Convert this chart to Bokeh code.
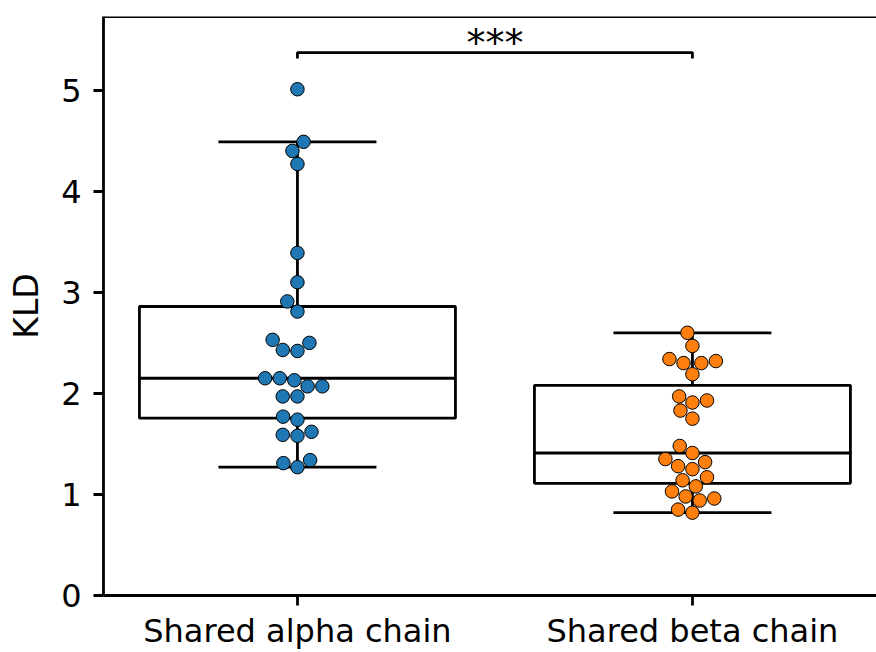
import numpy as np
from bokeh.plotting import figure
from bokeh.models import Range1d, FixedTicker, Span
from bokeh.embed import file_html
from bokeh.resources import INLINE
from bokeh.core.properties import value

# ---- data ----
categories = ["Shared alpha chain", "Shared beta chain"]
alpha_kld = [5.01, 4.49, 4.40, 4.27, 3.39, 3.10, 2.91, 2.81, 2.53, 2.50, 2.43, 2.42,
             2.15, 2.07, 2.13, 1.97, 1.97, 2.07, 2.15, 1.77, 1.74, 1.59, 1.58, 1.62,
             1.31, 1.27, 1.34]
beta_kld = [2.60, 2.47, 2.34, 2.30, 2.30, 2.32, 2.19, 1.97, 1.91, 1.93, 1.83, 1.75,
            1.48, 1.41, 1.35, 1.32, 1.28, 1.25, 1.17, 1.14, 1.08, 1.03, 0.98, 0.94,
            0.96, 0.85, 0.82]
y_ticks = [0, 1, 2, 3, 4, 5]
y_label = "KLD"
sig_label = "***"
colors = ["#1f77b4", "#ff7f0e"]

# ---- layout ----
W, H = 876, 652
B_LEFT, B_RIGHT, B_TOP, B_BOTTOM = 103, 0, 16, 56
X0, X1 = -0.491, 1.466
Y0, Y1 = 0.0, 5.73
FONT = "DejaVu Sans"
LW = 2.8

p = figure(width=W, height=H, output_backend="svg", toolbar_location=None,
           x_range=Range1d(X0, X1), y_range=Range1d(Y0, Y1),
           min_border_left=B_LEFT, min_border_right=B_RIGHT,
           min_border_top=B_TOP, min_border_bottom=B_BOTTOM)
p.outline_line_color = None
p.xgrid.visible = False
p.ygrid.visible = False
p.background_fill_color = "white"
p.border_fill_color = "white"

frame_w = W - B_LEFT - B_RIGHT
frame_h = H - B_TOP - B_BOTTOM
px_x = frame_w / (X1 - X0)
px_y = frame_h / (Y1 - Y0)


def swarm(vals, d=14.0):
    """seaborn-style beeswarm in pixel space; returns x offsets in data units."""
    vals = np.asarray(vals, dtype=float)
    order = np.argsort(vals, kind="stable")
    swarm_pts = []
    offs = np.zeros(len(vals))
    for n, i in enumerate(order):
        y = vals[i] * px_y
        if n == 0:
            swarm_pts.append((0.0, y))
            offs[i] = 0.0
            continue
        neighbors = []
        for xj, yj in reversed(swarm_pts):
            if (y - yj) < d:
                neighbors.append((xj, yj))
            else:
                break
        cands = [0.0]
        left_first = True
        for xj, yj in neighbors:
            dy = y - yj
            dx = np.sqrt(max(d * d - dy * dy, 0.0)) * 1.05
            pair = [xj - dx, xj + dx] if left_first else [xj + dx, xj - dx]
            cands.extend(pair)
            left_first = not left_first
        idx = np.argsort(np.abs(np.array(cands)), kind="stable")
        chosen = cands[idx[-1]]
        for k in idx:
            c = cands[k]
            if all((c - xj) ** 2 + (y - yj) ** 2 >= d * d for xj, yj in neighbors):
                chosen = c
                break
        swarm_pts.append((chosen, y))
        offs[i] = chosen
    return offs / px_x


def box_stats(vals):
    v = np.asarray(vals, dtype=float)
    q1, med, q3 = np.percentile(v, [25, 50, 75])
    iqr = q3 - q1
    lo = v[v >= q1 - 1.5 * iqr].min()
    hi = v[v <= q3 + 1.5 * iqr].max()
    return q1, med, q3, lo, hi


series = [alpha_kld, beta_kld]
for k, vals in enumerate(series):
    q1, med, q3, lo, hi = box_stats(vals)
    p.segment(x0=[k, k], y0=[q3, q1], x1=[k, k], y1=[hi, lo], line_color="black", line_width=LW)
    p.segment(x0=[k - 0.2, k - 0.2], y0=[hi, lo], x1=[k + 0.2, k + 0.2], y1=[hi, lo],
              line_color="black", line_width=LW)
    p.quad(left=[k - 0.4], right=[k + 0.4], bottom=[q1], top=[q3],
           fill_color="white", line_color="black", line_width=LW)
    p.segment(x0=[k - 0.4], y0=[med], x1=[k + 0.4], y1=[med], line_color="black", line_width=LW)

for k, vals in enumerate(series):
    xs = k + swarm(vals)
    p.scatter(x=xs, y=vals, size=13.5, fill_color=colors[k], line_color="black", line_width=1.0)

# significance bracket
y_br_lo, y_br_hi = 5.315, 5.373
p.line(x=[0, 0, 1, 1], y=[y_br_lo, y_br_hi, y_br_hi, y_br_lo], line_color="black", line_width=LW)
p.text(x=[0.5], y=[5.47], text=[sig_label], text_align="center", text_baseline="alphabetic",
       text_font=value(FONT), text_font_size="38px", text_color="black")

# top spine
p.add_layout(Span(location=Y1, dimension="width", line_color="black", line_width=LW))

# axes
for ax in (p.xaxis[0], p.yaxis[0]):
    ax.axis_line_width = LW
    ax.axis_line_color = "black"
    ax.major_tick_line_width = LW
    ax.major_tick_line_color = "black"
    ax.major_tick_out = 10
    ax.major_tick_in = 0
    ax.minor_tick_line_color = None
    ax.major_label_text_font = FONT
    ax.major_label_text_font_size = "32px"
    ax.major_label_text_color = "black"

p.xaxis[0].ticker = FixedTicker(ticks=[0, 1])
p.xaxis[0].major_label_overrides = {0: categories[0], 1: categories[1]}
p.xaxis[0].major_label_standoff = 6

p.yaxis[0].ticker = FixedTicker(ticks=y_ticks)
p.yaxis[0].major_label_standoff = 12
p.yaxis[0].axis_label = y_label
p.yaxis[0].axis_label_text_font = FONT
p.yaxis[0].axis_label_text_font_size = "33px"
p.yaxis[0].axis_label_text_font_style = "normal"
p.yaxis[0].axis_label_text_color = "black"
p.yaxis[0].axis_label_standoff = 12

open("out.html", "w").write(file_html(p, INLINE))
